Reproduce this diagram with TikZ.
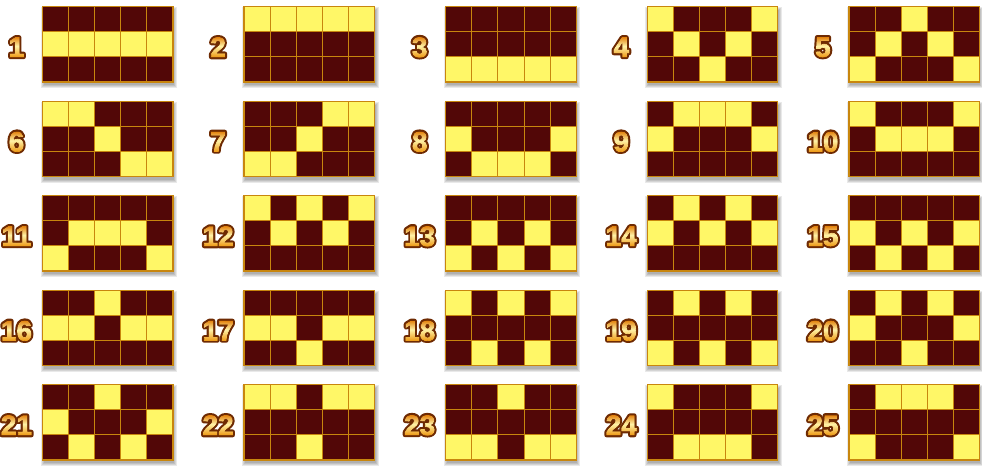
\documentclass[tikz,border=0pt]{standalone}
\usepackage{fontspec}
\usetikzlibrary{fadings}
\newfontfamily\numfont{Liberation Sans}[BoldFeatures={FakeBold=3}]
\newfontfamily\numoutfont{Liberation Sans}[BoldFeatures={FakeBold=17}]
\definecolor{cellD}{HTML}{520707}
\definecolor{cellY}{HTML}{FFF767}
\definecolor{gline}{HTML}{C8860E}
\definecolor{numout}{HTML}{6E2A02}
\definecolor{numtop}{HTML}{E07800}
\definecolor{numlight}{HTML}{FFF2A6}
\definecolor{numbot}{HTML}{EC9006}
\pgfdeclareverticalshading{numgrad}{982pt}{%
  color(0pt)=(numbot);
  color(29.8pt)=(numbot); color(41.9pt)=(numlight); color(51.8pt)=(numtop);
  color(124.3pt)=(numbot); color(136.4pt)=(numlight); color(146.3pt)=(numtop);
  color(218.8pt)=(numbot); color(230.9pt)=(numlight); color(240.8pt)=(numtop);
  color(313.3pt)=(numbot); color(325.4pt)=(numlight); color(335.3pt)=(numtop);
  color(407.8pt)=(numbot); color(419.9pt)=(numlight); color(429.8pt)=(numtop);
  color(466pt)=(numtop)}
\newcommand\numfadebox{%
  \color{white}%
  \hbox to 982pt{%
    \foreach \n in {0,...,24}{%
      \pgfmathsetmacro\fx{42.5+201.6*mod(\n,5)-26}%
      \pgfmathsetmacro\fy{466-(47.2+94.5*div(\n,5))}%
      \pgfmathtruncatemacro\fnum{\n+1}%
      \setbox0=\hbox{\numfont\bfseries\fontsize{28}{28}\selectfont\fnum}%
      \rlap{\kern\fx pt\raise\dimexpr\fy pt-0.5\ht0\relax\hbox to 0pt{\hss\box0\hss}}%
    }%
    \vbox to 466pt{\vfil}\hss}}
\tikzset{
  numtxt/.style={inner sep=0pt, font=\numoutfont\bfseries\fontsize{28}{28}\selectfont},
  gridline/.style={gline, line width=0.9pt},
  gridframe/.style={gline, line width=1.3pt, line join=miter},
  shadowlayer/.style={fill=black, opacity=0.085},
}
\begin{document}
\begin{tikzpicture}[x=1pt,y=-1pt,line join=round]
\pgfdeclarefading{numfade}{\pgfinterruptpicture\numfadebox\endpgfinterruptpicture}%
\useasboundingbox (0,0) rectangle (982,466);
\fill[white] (0,0) rectangle (982,466);
\foreach \pa/\pb/\pc/\pd/\pe [count=\n from 0] in {
  2/2/2/2/2, 1/1/1/1/1, 3/3/3/3/3, 1/2/3/2/1, 3/2/1/2/3,
  1/1/2/3/3, 3/3/2/1/1, 2/3/3/3/2, 2/1/1/1/2, 1/2/2/2/1,
  3/2/2/2/3, 1/2/1/2/1, 3/2/3/2/3, 2/1/2/1/2, 2/3/2/3/2,
  2/2/1/2/2, 2/2/3/2/2, 1/3/1/3/1, 3/1/3/1/3, 2/1/3/1/2,
  2/3/1/3/2, 1/1/3/1/1, 3/3/1/3/3, 1/3/3/3/1, 3/1/1/1/3}{
  \pgfmathtruncatemacro\col{mod(\n,5)}
  \pgfmathtruncatemacro\row{div(\n,5)}
  \pgfmathsetmacro\gx{42.5+201.6*\col}
  \pgfmathsetmacro\gy{6.7+94.5*\row}
  \pgfmathtruncatemacro\num{\n+1}
  % shadow
  \foreach \s in {3,2,1,0}{
    \fill[shadowlayer] (\gx+1-\s,\gy+3.5-\s) rectangle (\gx+131.5+\s,\gy+78.5+\s);
  }
  % cells
  \fill[cellD] (\gx,\gy) rectangle ++(130.5,75.3);
  \foreach \rr [count=\k from 0] in {\pa,\pb,\pc,\pd,\pe}{
    \fill[cellY] (\gx+26.1*\k,\gy+25.1*\rr-25.1) rectangle ++(26.1,25.1);
  }
  \foreach \k in {1,...,4}{
    \draw[gridline] (\gx+26.1*\k,\gy) -- ++(0,75.3);
  }
  \foreach \k in {1,2}{
    \draw[gridline] (\gx,\gy+25.1*\k) -- ++(130.5,0);
  }
  \draw[gridframe] (\gx,\gy) rectangle ++(130.5,75.3);
  % number (outlined)
  \node[numtxt,text=numout] (n\num) at (\gx-26,\gy+40.5) {\num};
}
% gradient fill of the numbers
\begin{scope}
  \pgfsetfading{numfade}{\pgftransformshift{\pgfpoint{491pt}{-233pt}}}
  \pgftext[at=\pgfpoint{0pt}{-466pt},left,bottom]{\pgfuseshading{numgrad}}
\end{scope}
\end{tikzpicture}
\end{document}
